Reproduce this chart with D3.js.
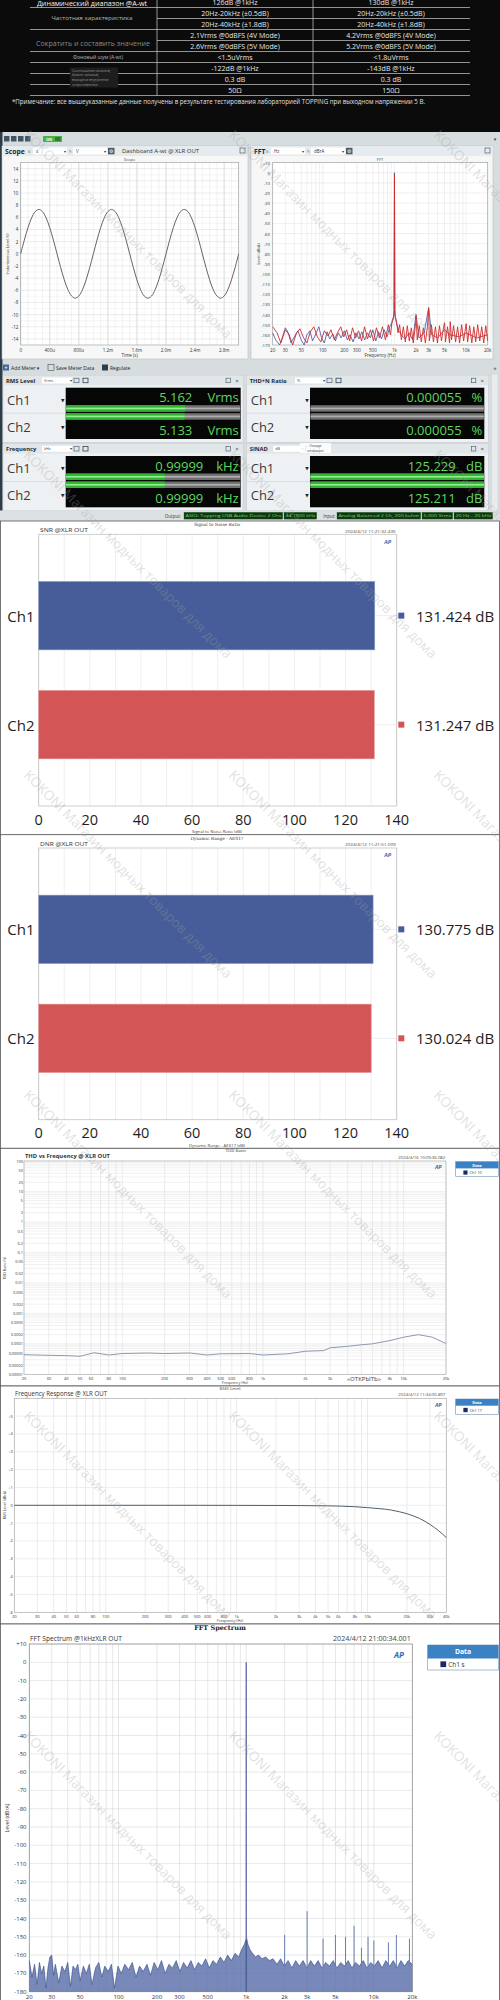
<!DOCTYPE html>
<html>
<head>
<meta charset="utf-8">
<script src="https://cdn.jsdelivr.net/npm/d3@7/dist/d3.min.js"></script>
<style>
html,body{margin:0;padding:0;background:#fff;}
svg{display:block;font-family:"Open Sans","Noto Sans","DejaVu Sans",sans-serif;}
</style>
</head>
<body>
<svg id="chart" width="500" height="2000" viewBox="0 0 500 2000"></svg>
<script>
// ===================== DATA =====================
const specLeft = ["Динамический диапазон @A-wt", "Частотная характеристика", "Сократить и составить значение", "Фоновый шум (A-wt)"];
const specMid = ["126dB @1kHz", "20Hz-20kHz (±0.5dB)", "20Hz-40kHz (±1.8dB)", "2.1Vrms @0dBFS (4V Mode)", "2.6Vrms @0dBFS (5V Mode)", "<1.5uVrms", "-122dB @1kHz", "0.3 dB", "50Ω"];
const specRight = ["130dB @1kHz", "20Hz-20kHz (±0.5dB)", "20Hz-40kHz (±1.8dB)", "4.2Vrms @0dBFS (4V Mode)", "5.2Vrms @0dBFS (5V Mode)", "<1.8uVrms", "-143dB @1kHz", "0.3 dB", "150Ω"];
const specSmallNote = ["Соотношение каналов,", "баланс каналов,", "выходное внутреннее", "сопротивление"];
const specNote = "*Примечание: все вышеуказанные данные получены в результате тестирования лабораторией TOPPING при выходном напряжении 5 В.";

const scopeTimeMs = [0,0.05,0.1,0.15,0.2,0.25,0.3,0.35,0.4,0.45,0.5,0.55,0.6,0.65,0.7,0.75,0.8,0.85,0.9,0.95,
  1.0,1.05,1.1,1.15,1.2,1.25,1.3,1.35,1.4,1.45,1.5,1.55,1.6,1.65,1.7,1.75,1.8,1.85,1.9,1.95,
  2.0,2.05,2.1,2.15,2.2,2.25,2.3,2.35,2.4,2.45,2.5,2.55,2.6,2.65,2.7,2.75,2.8,2.85,2.9,2.95,3.0];
const scopeVolts = [0,2.26,4.29,5.91,6.94,7.30,6.94,5.91,4.29,2.26,0,-2.26,-4.29,-5.91,-6.94,-7.30,-6.94,-5.91,-4.29,-2.26,
  0,2.26,4.29,5.91,6.94,7.30,6.94,5.91,4.29,2.26,0,-2.26,-4.29,-5.91,-6.94,-7.30,-6.94,-5.91,-4.29,-2.26,
  0,2.26,4.29,5.91,6.94,7.30,6.94,5.91,4.29,2.26,0,-2.26,-4.29,-5.91,-6.94,-7.30,-6.94,-5.91,-4.29,-2.26,0];
const scopeTicksMs = [0,0.4,0.8,1.2,1.6,2.0,2.4,2.8];
const scopeTickLabels = ["0","400u","800u","1.2m","1.6m","2.0m","2.4m","2.8m"];
const scopeYTicks = [14,12,10,8,6,4,2,0,-2,-4,-6,-8,-10,-12,-14];

const dashFftBlue = [[20,-158],[22,-165],[25,-170],[28,-160],[30,-153],[33,-158],[36,-168],[40,-162],[45,-156],[50,-165],[55,-170],[60,-160],[66,-156],[72,-166],[80,-159],[88,-152],[96,-163],[105,-168],[115,-157],[125,-164],[138,-159],[150,-166],[165,-158],[180,-163],[200,-156],[220,-165],[240,-160],[265,-167],[290,-158],[320,-164],[350,-157],[385,-165],[420,-158],[460,-163],[500,-155],[550,-166],[600,-157],[660,-164],[720,-155],[790,-162],[860,-152],[920,-148],[960,-145],[985,-140],[1000,0],[1015,-140],[1040,-145],[1080,-150],[1150,-156],[1250,-160],[1400,-164],[1600,-158],[1800,-165],[2000,-140],[2200,-163],[2600,-158],[3000,-133],[3300,-160],[4000,-163],[5000,-155],[6000,-160],[8000,-162],[10000,-158],[14000,-163],[20000,-160]];
const dashFftRed = [[20,-152],[23,-158],[26,-168],[30,-155],[34,-160],[38,-170],[43,-158],[48,-154],[54,-163],[60,-168],[67,-157],[75,-152],[84,-162],[94,-167],[105,-156],[118,-161],[130,-155],[145,-165],[160,-158],[178,-152],[196,-162],[215,-155],[237,-166],[260,-153],[287,-163],[316,-156],[348,-166],[383,-152],[420,-164],[463,-155],[510,-166],[560,-153],[617,-163],[680,-152],[748,-165],[820,-150],[880,-160],[930,-146],[970,-142],[990,-136],[1000,-2],[1010,-136],[1030,-142],[1070,-147],[1120,-158],[1180,-150],[1250,-165],[1330,-152],[1420,-167],[1510,-151],[1610,-166],[1720,-153],[1830,-168],[1950,-152],[2000,-141],[2080,-165],[2220,-151],[2370,-167],[2530,-153],[2700,-168],[2880,-152],[3000,-134],[3070,-166],[3280,-150],[3500,-167],[3730,-152],[3980,-168],[4250,-151],[4530,-166],[4830,-153],[5000,-148],[5150,-167],[5500,-152],[5870,-168],[6000,-147],[6260,-165],[6680,-151],[7130,-167],[7600,-152],[8110,-168],[8650,-150],[9230,-166],[9850,-152],[10000,-149],[10500,-167],[11200,-151],[12000,-168],[12800,-152],[13600,-167],[14500,-150],[15500,-166],[16500,-152],[17600,-168],[18800,-151],[20000,-166]];
const dashFftYTicks = [10,0,-10,-20,-30,-40,-50,-60,-70,-80,-90,-100,-110,-120,-130,-140,-150,-160,-170];
const fftXTicks = [20,30,50,100,200,300,500,1000,2000,3000,5000,10000,20000];

const channels = ["Ch1", "Ch2"];
const meterTitles = ["RMS Level", "THD+N Ratio", "Frequency", "SINAD"];
const meterUnits = ["Vrms", "%", "kHz", "dB"];
const rmsValues = [5.162, 5.133];
const thdnValues = [0.000055, 0.000055];
const freqValues = [0.99999, 0.99999];
const sinadValues = [125.229, 125.211];
const statusOutput = ["ASIO: Topping USB Audio Device 2 Chs", "44.1000 kHz"];
const statusInput = ["Analog Balanced 2 Ch, 200 kohm", "5.000 Vrms", "20 Hz - 20 kHz"];

const snrValues = [131.424, 131.247];
const dnrValues = [130.775, 130.024];
const barTicks = [0,20,40,60,80,100,120,140];

const thdFreq = [20,30,40,50,63,80,100,150,200,300,400,500,800,1000,1500,2000,2700,3000,4000,5000,6000,8000,10000,12700,16000,20000];
const thdValues = [0.000044,0.000042,0.000041,0.000039,0.000051,0.000043,0.000048,0.00005,0.000048,0.00005,0.000043,0.000047,0.000048,0.000043,0.000047,0.000057,0.00006,0.000074,0.000083,0.000093,0.0001,0.000128,0.000165,0.0002,0.000165,0.000102];
const thdYTicks = [100,50,20,10,5,2,1,0.5,0.2,0.1,0.05,0.02,0.01,0.005,0.002,0.001,0.0005,0.0002,0.0001,0.00005,0.00002,0.00001];
const thdXTicks = [20,30,40,50,60,80,100,200,300,400,500,600,800,1000,2000,3000,4000,5000,6000,8000,10000,20000];

const frFreq = [20,50,100,200,500,1000,2000,3000,5000,8000,10000,12500,15000,17500,20000,22500,25000,27500,30000,32500,35000,37500,40000];
const frValues = [0,0,0,0,0,-0.005,-0.01,-0.015,-0.03,-0.08,-0.13,-0.19,-0.26,-0.36,-0.47,-0.6,-0.74,-0.9,-1.07,-1.25,-1.43,-1.62,-1.81];
const frYTicks = [5,4,3,2,1,0,-1,-2,-3,-4,-5,-6];
const frXTicks = [20,30,40,50,60,80,100,200,300,400,500,600,800,1000,2000,3000,4000,5000,6000,8000,10000,20000,30000,40000];

const fftNoise = [[20,-163],[21,-172],[22,-165],[23,-176],[24,-164],[25,-170],[26,-166],[27,-178],[28,-167],[29,-161],[30,-160],[31,-171],[32,-165],[34,-175],[36,-166],[38,-169],[40,-164],[42,-177],[44,-166],[46,-168],[48,-165],[50,-174],[53,-166],[56,-170],[59,-165],[62,-176],[66,-167],[70,-164],[74,-172],[78,-166],[83,-169],[88,-165],[93,-178],[99,-166],[105,-170],[112,-165],[120,-168],[128,-164],[137,-172],[146,-166],[156,-169],[167,-165],[178,-171],[190,-164],[203,-168],[217,-163],[232,-170],[248,-165],[265,-167],[283,-163],[302,-169],[323,-164],[345,-167],[369,-163],[394,-168],[421,-164],[450,-166],[481,-162],[514,-167],[549,-163],[587,-165],[627,-161],[670,-164],[716,-160],[765,-163],[818,-159],[874,-161],[934,-156],[970,-154],[990,-152],[1010,-151],[1030,-154],[1070,-157],[1120,-159],[1180,-161],[1250,-160],[1330,-162],[1420,-161],[1520,-163],[1620,-162],[1740,-165],[1860,-162],[1990,-166],[2130,-163],[2280,-167],[2440,-163],[2610,-166],[2790,-163],[2990,-167],[3200,-163],[3420,-166],[3660,-163],[3920,-167],[4190,-164],[4490,-166],[4800,-163],[5140,-167],[5500,-164],[5880,-166],[6290,-163],[6730,-167],[7200,-164],[7710,-166],[8250,-163],[8830,-167],[9450,-164],[10100,-166],[10800,-163],[11600,-167],[12400,-163],[13300,-166],[14200,-163],[15200,-167],[16300,-163],[17400,-166],[18600,-163],[20000,-165]];
const fftHarmonics = [[2000,-149],[3000,-136],[4000,-151],[5000,-149],[6000,-150],[7000,-144],[8000,-156],[9000,-150],[10000,-152],[13000,-153],[15000,-149],[19000,-151]];
const fftFundamental = [[1000, 0]];
const fftYTicks = [10,0,-10,-20,-30,-40,-50,-60,-70,-80,-90,-100,-110,-120,-130,-140,-150,-160,-170,-180];

const watermark = "KOKONI Магазин модных товаров для дома";

// ===================== HELPERS =====================
const svg = d3.select("#chart");
function T(g, x, y, s, o = {}) {
  const t = g.append("text").attr("x", x).attr("y", y).text(s)
    .attr("font-size", o.size || 6).attr("fill", o.fill || "#222")
    .attr("text-anchor", o.anchor || "start").attr("dominant-baseline", "central");
  if (o.weight) t.attr("font-weight", o.weight);
  if (o.len) t.attr("textLength", o.len).attr("lengthAdjust", "spacingAndGlyphs");
  if (o.family) t.attr("font-family", o.family);
  if (o.rot) t.attr("transform", `rotate(${o.rot},${x},${y})`);
  if (o.italic) t.attr("font-style", "italic");
  if (o.op != null) t.attr("opacity", o.op);
  return t;
}
function R(g, x, y, w, h, fill, stroke, sw) {
  const r = g.append("rect").attr("x", x).attr("y", y).attr("width", w).attr("height", h).attr("fill", fill || "none");
  if (stroke) r.attr("stroke", stroke).attr("stroke-width", sw || 0.5);
  return r;
}
function L(g, x1, y1, x2, y2, stroke, sw) {
  return g.append("line").attr("x1", x1).attr("y1", y1).attr("x2", x2).attr("y2", y2).attr("stroke", stroke).attr("stroke-width", sw || 0.5);
}
const fmtK = f => f >= 1000 ? (f / 1000) + "k" : String(f);
const fmtSigned = v => v > 0 ? "+" + v : String(v);
const fmtSmall = v => v >= 1 ? String(v) : v.toFixed(Math.ceil(-Math.log10(v) - 1e-9));
function apLogo(g, x, y, s) { T(g, x, y, "AP", {size: s || 6, fill: "#2f6db5", weight: "bold", italic: true, anchor: "middle"}); }
function legendBox(g, x0, x1, y0, hh, rh, label, fs) {
  R(g, x0, y0, x1 - x0, hh + rh, "#fff", "#6f8fb5", 0.6);
  R(g, x0, y0, x1 - x0, hh, "#3a82c4");
  T(g, (x0 + x1) / 2, y0 + hh / 2, "Data", {size: fs, fill: "#fff", anchor: "middle", weight: "bold"});
  const sq = rh * 0.5;
  R(g, x0 + (x1 - x0) * 0.18, y0 + hh + (rh - sq) / 2, sq, sq, "#1b2a60");
  T(g, x0 + (x1 - x0) * 0.18 + sq + 2, y0 + hh + rh / 2, label, {size: fs * 0.95, fill: "#333"});
}

// ===================== 1. SPEC TABLE =====================
{
  const g = svg.append("g");
  R(g, 0, 0, 500, 132, "#0b0b0b");
  const rowY = d3.scalePoint().domain(d3.range(specMid.length)).range([2, 90]);
  const st = rowY.step();
  specMid.forEach((d, i) => {
    const ly = rowY(i) + st / 2;
    const x0 = (i === 1 || i === 3) ? 157 : 30;
    L(g, x0, ly, 470, ly, "#cfcfcf", 0.7);
    T(g, 235, rowY(i), d, {size: 7, fill: "#e6e6e6", anchor: "middle"});
    T(g, 391, rowY(i), specRight[i], {size: 7, fill: "#e6e6e6", anchor: "middle"});
  });
  L(g, 157, 0, 157, rowY(8) + st / 2, "#cfcfcf", 0.7);
  L(g, 313, 0, 313, rowY(8) + st / 2, "#cfcfcf", 0.7);
  T(g, 92, 2.5, specLeft[0], {size: 8, fill: "#f2f2f2", anchor: "middle", len: 110});
  T(g, 92, 18, specLeft[1], {size: 5.5, fill: "#b8b8b8", anchor: "middle", len: 81});
  T(g, 93, 43, specLeft[2], {size: 7.2, fill: "#8a8a8a", anchor: "middle", len: 114});
  T(g, 98, 57, specLeft[3], {size: 4.5, fill: "#b8b8b8", anchor: "middle", len: 50});
  R(g, 70, 67.5, 48, 20, "#1e1e1e");
  specSmallNote.forEach((s, i) => T(g, 72, 70 + i * 4.8, s, {size: 3.4, fill: "#9a9a9a"}));
  T(g, 12, 101.5, specNote, {size: 6.3, fill: "#e0e0e0", len: 413});
}

// ===================== 2. DASHBOARD =====================
{
  const g = svg.append("g");
  R(g, 0, 132, 500, 389, "#d7dcdf");
  R(g, 0, 132, 2.5, 389, "#2d3c46");
  [4, 11, 18, 25].forEach(x => R(g, x, 136, 5.5, 5.5, "#3f5565"));
  R(g, 43, 136, 19, 6, "#46b346");
  T(g, 49, 139, "ON", {size: 3.8, fill: "#fff", anchor: "middle", weight: "bold"});
  R(g, 55, 137, 5.5, 4, "#2b7f2b");
  T(g, 495, 139, "▾", {size: 5, fill: "#444", anchor: "middle"});

  function graphPanel(x0, w, name, xl, xu, yu, caption) {
    R(g, x0, 146, w, 213, "#f7f7f7", "#b8c1c7", 0.6);
    R(g, x0, 146, w, 10, "#e5ebee");
    T(g, x0 + 3, 151, name, {size: 6.8, weight: "bold", fill: "#1e2a33"});
    const bx = x0 + xl;
    T(g, bx - 5, 151, "X:", {size: 3.6, fill: "#555"});
    R(g, bx, 147.5, 34, 7, "#fff");
    T(g, bx + 3, 151, xu, {size: 4.5, fill: "#333"});
    T(g, bx + 31, 151, "▾", {size: 4, fill: "#333"});
    T(g, bx + 36, 151, "Y:", {size: 3.6, fill: "#555"});
    R(g, bx + 40, 147.5, 34, 7, "#fff");
    T(g, bx + 43, 151, yu, {size: 4.5, fill: "#333"});
    T(g, bx + 71, 151, "▾", {size: 4, fill: "#333"});
    R(g, bx + 75, 147.8, 6.5, 6.5, "#4c5f6c");
    T(g, bx + 78.25, 151.1, "⚙", {size: 5, fill: "#fff", anchor: "middle"});
    if (caption) T(g, bx + 89, 151, caption, {size: 6, fill: "#333", len: 77});
    R(g, x0 + w - 8, 148, 5, 5, "none", "#445", 0.6);
  }
  graphPanel(2, 246, "Scope", 31, "s", "V", "Dashboard A-wt @ XLR OUT");
  graphPanel(251, 242, "FFT", 20, "Hz", "dBrA", null);

  // ---- Scope plot
  const sx = d3.scaleLinear().domain([0, 3]).range([20.7, 238.7]);
  const sy = d3.scaleLinear().domain([-15, 15]).range([345, 162.6]);
  R(g, 20.7, 162.6, 218, 182.4, "#fff");
  g.append("g").selectAll("line").data(d3.range(0, 3.001, 0.1)).join("line")
    .attr("x1", d => sx(d)).attr("x2", d => sx(d)).attr("y1", 162.6).attr("y2", 345)
    .attr("stroke", "#e6e6e6").attr("stroke-width", 0.5);
  g.append("g").selectAll("line").data(d3.range(-15, 15.01, 1)).join("line")
    .attr("y1", d => sy(d)).attr("y2", d => sy(d)).attr("x1", 20.7).attr("x2", 238.7)
    .attr("stroke", d => d % 2 === 0 ? "#d9d9d9" : "#ececec").attr("stroke-width", 0.5);
  g.append("g").selectAll("line").data(scopeTicksMs).join("line")
    .attr("x1", d => sx(d)).attr("x2", d => sx(d)).attr("y1", 162.6).attr("y2", 345)
    .attr("stroke", "#d2d2d2").attr("stroke-width", 0.6);
  R(g, 20.7, 162.6, 218, 182.4, "none", "#9aa0a4", 0.6);
  scopeYTicks.forEach(v => T(g, 18.3, sy(v), String(v), {size: 4.5, fill: "#333", anchor: "end"}));
  scopeTicksMs.forEach((v, i) => T(g, sx(v), 350, scopeTickLabels[i], {size: 4.5, fill: "#333", anchor: "middle"}));
  T(g, 129.7, 159, "Scope", {size: 4, fill: "#444", anchor: "middle"});
  T(g, 129.7, 354.5, "Time (s)", {size: 4.5, fill: "#333", anchor: "middle"});
  T(g, 7, 254, "Instantaneous Level (V)", {size: 3.8, fill: "#333", anchor: "middle", rot: -90});
  g.append("path").datum(scopeTimeMs.map((t, i) => [t, scopeVolts[i]]))
    .attr("d", d3.line().x(d => sx(d[0])).y(d => sy(d[1])).curve(d3.curveCatmullRom))
    .attr("fill", "none").attr("stroke", "#6e5f68").attr("stroke-width", 1);

  // ---- Dashboard FFT plot
  const fx = d3.scaleLog().domain([20, 20000]).range([272.7, 487.7]);
  const fy = d3.scaleLinear().domain([-170, 10]).range([345, 162.6]);
  R(g, 272.7, 162.6, 215, 182.4, "#fff");
  g.append("g").selectAll("line").data(fx.ticks()).join("line")
    .attr("x1", d => fx(d)).attr("x2", d => fx(d)).attr("y1", 162.6).attr("y2", 345)
    .attr("stroke", "#e0e0e0").attr("stroke-width", 0.5);
  g.append("g").selectAll("line").data(dashFftYTicks).join("line")
    .attr("y1", d => fy(d)).attr("y2", d => fy(d)).attr("x1", 272.7).attr("x2", 487.7)
    .attr("stroke", "#e0e0e0").attr("stroke-width", 0.5);
  R(g, 272.7, 162.6, 215, 182.4, "none", "#9aa0a4", 0.6);
  dashFftYTicks.forEach(v => T(g, 270, fy(v), fmtSigned(v), {size: 4.3, fill: "#333", anchor: "end"}));
  fftXTicks.forEach(v => T(g, fx(v), 350, fmtK(v), {size: 4.5, fill: "#333", anchor: "middle"}));
  T(g, 380, 159, "FFT", {size: 4, fill: "#444", anchor: "middle"});
  T(g, 380, 354.5, "Frequency (Hz)", {size: 4.5, fill: "#333", anchor: "middle"});
  T(g, 258, 254, "Level (dBrA)", {size: 3.8, fill: "#333", anchor: "middle", rot: -90});
  const fl = d3.line().x(d => fx(d[0])).y(d => fy(d[1]));
  g.append("path").datum(dashFftBlue).attr("d", fl).attr("fill", "none").attr("stroke", "#3c4f9e").attr("stroke-width", 0.8);
  g.append("path").datum(dashFftRed).attr("d", fl).attr("fill", "none").attr("stroke", "#cf2b2b").attr("stroke-width", 0.9);

  // ---- meter toolbar
  R(g, 3, 364.5, 6, 6, "#3c6f9e");
  T(g, 6, 367.5, "+", {size: 5, fill: "#fff", anchor: "middle", weight: "bold"});
  T(g, 11, 368, "Add Meter  ▾", {size: 5, fill: "#222"});
  R(g, 48, 364.5, 6, 6, "none", "#333", 0.5);
  T(g, 56, 368, "Save Meter Data", {size: 5, fill: "#222"});
  R(g, 102, 364.5, 6, 6, "#2e3e4a");
  T(g, 110, 368, "Regulate", {size: 5, fill: "#222"});
  T(g, 495, 368, "±", {size: 5, fill: "#444", anchor: "middle"});
  R(g, 491.5, 374, 6.5, 137, "#e9ebec", "#c8cdd0", 0.4);

  // ---- meter panels
  function meterPanel(p) {
    const {x0, y0, w, d0, d1, title, unit, vals, fmt, bar, vr, ur, ddx} = p;
    R(g, x0, y0, w, 66.6, "#eef1f3", "#c0c7cc", 0.5);
    R(g, x0, y0, w, 9.5, "#e1e6e9");
    T(g, x0 + 3, y0 + 5, title, {size: 5.8, weight: "bold", fill: "#1f2b33"});
    const ux = x0 + ddx;
    R(g, ux, y0 + 1.8, 30, 6, "#fff");
    T(g, ux + 2, y0 + 4.9, unit, {size: 3.8, fill: "#444"});
    T(g, ux + 28, y0 + 4.9, "▾", {size: 4, fill: "#333"});
    R(g, ux + 32, y0 + 2.5, 5, 4.5, "none", "#456", 0.6);
    R(g, ux + 41, y0 + 2.5, 5, 4.5, "none", "#345", 0.8);
    R(g, x0 + w - 17, y0 + 2.5, 4.5, 4.5, "none", "#456", 0.6);
    T(g, x0 + w - 6, y0 + 5, "×", {size: 6, fill: "#333", anchor: "middle"});
    L(g, x0, y0 + 37.5, d0, y0 + 37.5, "#cdd3d6", 0.6);
    channels.forEach((c, i) => {
      T(g, x0 + 4, y0 + (i === 0 ? 24.3 : 51), c, {size: 13, fill: "#3a3a3a"});
      T(g, d0 - 3, y0 + (i === 0 ? 24.3 : 51), "▼", {size: 4.5, fill: "#222", anchor: "middle"});
    });
    R(g, d0, y0 + 12, d1 - d0, 51.3, "#060606");
    const bw = d1 - d0 - 1;
    bar.range([0, bw]).clamp(true);
    vals.forEach((v, i) => {
      const by = y0 + 29.5 + i * 8;
      R(g, d0 + 0.5, by, bw, 6.5, "#707070");
      R(g, d0 + 0.5, by + 2.4, bw, 1.7, "#b0b0b0");
      const gw = bar(v);
      if (gw > 0) {
        R(g, d0 + 0.5, by, gw, 6.5, "#33b133");
        R(g, d0 + 0.5, by + 2.4, gw, 1.7, "#8ff08f");
      }
      const ty = y0 + (i === 0 ? 21.6 : 54.3);
      T(g, d1 + vr, ty, fmt(v), {size: 13, fill: "#5fd65f", anchor: "end"});
      T(g, d1 + ur, ty, unit, {size: 13, fill: "#5fd65f", anchor: "end"});
    });
  }
  meterPanel({x0: 3, y0: 375.7, w: 240, d0: 65.7, d1: 240.7, title: meterTitles[0], unit: meterUnits[0], vals: rmsValues, fmt: d3.format(".3f"), bar: d3.scaleLinear().domain([0, 7.54]), vr: -48.4, ur: -2, ddx: 39});
  meterPanel({x0: 246.7, y0: 375.7, w: 241.6, d0: 310, d1: 484.3, title: meterTitles[1], unit: meterUnits[1], vals: thdnValues, fmt: d3.format(".6f"), bar: d3.scaleLog().domain([0.0001, 100]), vr: -22.6, ur: -2, ddx: 48.3});
  meterPanel({x0: 3, y0: 444, w: 240, d0: 65.7, d1: 240.7, title: meterTitles[2], unit: meterUnits[2], vals: freqValues, fmt: d3.format(".5f"), bar: d3.scaleLog().domain([0.02, 20]), vr: -37.4, ur: -2, ddx: 39});
  meterPanel({x0: 246.7, y0: 444, w: 241.6, d0: 310, d1: 484.3, title: meterTitles[3], unit: meterUnits[3], vals: sinadValues, fmt: d3.format(".3f"), bar: d3.scaleLinear().domain([0, 120]), vr: -28.6, ur: -2, ddx: 26.6});
  R(g, 300, 443, 31, 10, "#fff", null).attr("opacity", 0.85);
  T(g, 315.5, 445.5, "Четыре", {size: 3.4, fill: "#444", anchor: "middle"});
  T(g, 315.5, 450, "операции", {size: 3.4, fill: "#444", anchor: "middle"});

  // ---- status bar
  R(g, 0, 510.5, 500, 10.5, "#dde1e4");
  T(g, 181, 515.7, "Output:", {size: 4.5, fill: "#333", anchor: "end"});
  T(g, 335.5, 515.7, "Input:", {size: 4.5, fill: "#333", anchor: "end"});
  const boxes = [[184, 282.7, statusOutput[0]], [284, 316.7, statusOutput[1]], [337, 420.7, statusInput[0]], [422, 452.7, statusInput[1]], [454, 492.7, statusInput[2]]];
  boxes.forEach(b => {
    R(g, b[0], 512.3, b[1] - b[0], 6.8, "#0f3613", "#2f6a2f", 0.4);
    T(g, (b[0] + b[1]) / 2, 515.8, b[2], {size: 4, fill: "#78d878", anchor: "middle", len: (b[1] - b[0]) - 3});
  });
}

// ===================== 3/4. SNR & DNR BAR CHARTS =====================
function barChart(o, values, title, date, axisTitle, topLabel, sectionH) {
  const g = svg.append("g");
  R(g, 0.5, 521 + o, 499, sectionH, "#fff", "#555", 0.8);
  const x = d3.scaleLinear().domain([0, 140]).range([38.7, 396.7]);
  const y = d3.scaleBand().domain(channels).range([534.3 + o, 806 + o]).paddingInner(0.372).paddingOuter(0.4325);
  const colors = ["#475d99", "#d35555"];
  g.append("g").selectAll("line").data(d3.range(0, 141, 10)).join("line")
    .attr("x1", d => x(d)).attr("x2", d => x(d)).attr("y1", 534.3 + o).attr("y2", 806 + o)
    .attr("stroke", "#e8e8e8").attr("stroke-width", 0.7);
  g.append("g").selectAll("line").data(channels).join("line")
    .attr("x1", x(0)).attr("x2", x(140)).attr("y1", d => y(d) + y.bandwidth() / 2).attr("y2", d => y(d) + y.bandwidth() / 2)
    .attr("stroke", "#e8e8e8").attr("stroke-width", 0.7);
  R(g, 38.7, 534.3 + o, 358, 271.7, "none", "#c4c4c4", 0.8);
  g.append("g").selectAll("rect").data(values).join("rect")
    .attr("x", x(0)).attr("y", (d, i) => y(channels[i])).attr("width", d => x(d) - x(0)).attr("height", y.bandwidth())
    .attr("fill", (d, i) => colors[i]).attr("stroke", (d, i) => i ? "#e59a9a" : "#8f9fc8").attr("stroke-width", 0.6);
  channels.forEach((c, i) => {
    const cy = y(c) + y.bandwidth() / 2;
    T(g, 7.3, cy, c, {size: 15, fill: "#1e1e1e"});
    R(g, 398.3, cy - 3, 6, 6, colors[i]);
    T(g, 416, cy, d3.format(".3f")(values[i]) + " dB", {size: 15, fill: "#1e1e1e"});
  });
  barTicks.forEach(v => T(g, x(v), 819 + o, String(v), {size: 14.5, fill: "#1e1e1e", anchor: "middle"}));
  T(g, 217, 831 + o, axisTitle, {size: 4.3, fill: "#444", anchor: "middle"});
  T(g, 217, 524.5 + o, topLabel, {size: 4.3, fill: "#444", anchor: "middle", family: "DejaVu Serif"});
  T(g, 40, 530.3 + o, title, {size: 6, fill: "#333", len: 48});
  T(g, 395.7, 530.5 + o, date, {size: 4.3, fill: "#444", anchor: "end", len: 50.7});
  apLogo(g, 387.7, 541.7 + o, 5.5);
}
barChart(0, snrValues, "SNR @XLR OUT", "2024/4/12 11:21:32.435", "Signal to Noise Ratio (dB)", "Signal to Noise Ratio", 314);
barChart(313.7, dnrValues, "DNR @XLR OUT", "2024/4/12 11:21:51.009", "Dynamic Range - AES17 (dB)", "Dynamic Range - AES17", 313.6);

// ===================== 5. THD vs FREQUENCY =====================
{
  const g = svg.append("g");
  R(g, 0.5, 1148.3, 499, 237.7, "#fff", "#555", 0.8);
  const x = d3.scaleLog().domain([20, 20000]).range([24, 446]);
  const y = d3.scaleLog().domain([1e-5, 100]).range([1374.3, 1161]);
  g.append("g").selectAll("line").data(x.ticks()).join("line")
    .attr("x1", d => x(d)).attr("x2", d => x(d)).attr("y1", 1161).attr("y2", 1374.3)
    .attr("stroke", "#d9d9d9").attr("stroke-width", 0.5);
  g.append("g").selectAll("line").data(y.ticks()).join("line")
    .attr("y1", d => y(d)).attr("y2", d => y(d)).attr("x1", 24).attr("x2", 446)
    .attr("stroke", "#e2e2e2").attr("stroke-width", 0.5);
  R(g, 24, 1161, 422, 213.3, "none", "#a8a8a8", 0.6);
  thdYTicks.forEach(v => T(g, 23, y(v), fmtSmall(v), {size: 3.9, fill: "#333", anchor: "end"}));
  thdXTicks.forEach(v => T(g, x(v), 1378.5, fmtK(v), {size: 4, fill: "#333", anchor: "middle"}));
  R(g, 345, 1375.5, 38, 6, "#fff");
  T(g, 364, 1378.5, "«ОТКРЫТЬ»", {size: 5.5, fill: "#444", anchor: "middle", len: 34});
  T(g, 235, 1382.6, "Frequency (Hz)", {size: 3.8, fill: "#444", anchor: "middle"});
  T(g, 235.7, 1150.8, "THD Ratio", {size: 3.8, fill: "#444", anchor: "middle", family: "DejaVu Serif"});
  T(g, 4, 1268, "THD Ratio (%)", {size: 3.6, fill: "#444", anchor: "middle", rot: -90});
  T(g, 25, 1156.2, "THD vs Frequency @ XLR OUT", {size: 6, fill: "#333", weight: "bold", len: 85});
  T(g, 445.3, 1157, "2024/4/16 10:09:36.082", {size: 4.2, fill: "#444", anchor: "end", len: 47});
  apLogo(g, 438.3, 1167.3, 5.5);
  legendBox(g, 455.7, 498.3, 1161.7, 6.7, 8.3, "Ch1  10", 4);
  g.append("path").datum(thdFreq.map((f, i) => [f, thdValues[i]]))
    .attr("d", d3.line().x(d => x(d[0])).y(d => y(d[1])))
    .attr("fill", "none").attr("stroke", "#8c9aae").attr("stroke-width", 1);
}

// ===================== 6. FREQUENCY RESPONSE =====================
{
  const g = svg.append("g");
  R(g, 0.5, 1386, 499, 238, "#fff", "#555", 0.8);
  const x = d3.scaleLog().domain([20, 40000]).range([14.3, 446.3]);
  const y = d3.scaleLinear().domain([-6, 6]).range([1612.3, 1398.3]);
  g.append("g").selectAll("line").data(x.ticks()).join("line")
    .attr("x1", d => x(d)).attr("x2", d => x(d)).attr("y1", 1398.3).attr("y2", 1612.3)
    .attr("stroke", "#d9d9d9").attr("stroke-width", 0.5);
  g.append("g").selectAll("line").data(d3.range(-6, 6.01, 1)).join("line")
    .attr("y1", d => y(d)).attr("y2", d => y(d)).attr("x1", 14.3).attr("x2", 446.3)
    .attr("stroke", "#dcdcdc").attr("stroke-width", 0.5);
  R(g, 14.3, 1398.3, 432, 214, "none", "#a8a8a8", 0.6);
  frYTicks.forEach(v => T(g, 12.8, y(v), fmtSigned(v), {size: 4, fill: "#333", anchor: "end"}));
  frXTicks.forEach(v => T(g, x(v), 1616, fmtK(v), {size: 4, fill: "#333", anchor: "middle"}));
  T(g, 230, 1620, "Frequency (Hz)", {size: 3.8, fill: "#444", anchor: "middle"});
  T(g, 230, 1388.8, "RMS Level", {size: 3.8, fill: "#444", anchor: "middle", family: "DejaVu Serif"});
  T(g, 4, 1505, "RMS Level (dBrA)", {size: 3.6, fill: "#444", anchor: "middle", rot: -90});
  T(g, 15, 1393.8, "Frequency Response @ XLR OUT", {size: 6.2, fill: "#333", len: 92});
  T(g, 445.3, 1394.7, "2024/4/12 11:34:00.897", {size: 4.2, fill: "#444", anchor: "end", len: 47});
  apLogo(g, 438.3, 1405, 5.5);
  legendBox(g, 455.7, 498.3, 1399, 6.7, 8.6, "Ch1  17", 4);
  g.append("path").datum(frFreq.map((f, i) => [f, frValues[i]]))
    .attr("d", d3.line().x(d => x(d[0])).y(d => y(d[1])).curve(d3.curveMonotoneX))
    .attr("fill", "none").attr("stroke", "#4d6070").attr("stroke-width", 1);
}

// ===================== 7. FFT SPECTRUM =====================
{
  const g = svg.append("g");
  R(g, 0.5, 1624, 499, 380, "#fff", "#555", 0.8);
  const x = d3.scaleLog().domain([20, 20000]).range([29.3, 412.3]);
  const y = d3.scaleLinear().domain([-180, 10]).range([1991.7, 1644]);
  g.append("g").selectAll("line").data(x.ticks()).join("line")
    .attr("x1", d => x(d)).attr("x2", d => x(d)).attr("y1", 1644).attr("y2", 1991.7)
    .attr("stroke", "#d6d6d6").attr("stroke-width", 0.6);
  g.append("g").selectAll("line").data(fftYTicks).join("line")
    .attr("y1", d => y(d)).attr("y2", d => y(d)).attr("x1", 29.3).attr("x2", 412.3)
    .attr("stroke", "#dadada").attr("stroke-width", 0.6);
  R(g, 29.3, 1644, 383, 347.7, "none", "#8a8a8a", 0.7);
  fftYTicks.forEach(v => T(g, 26.5, y(v), fmtSigned(v), {size: 6, fill: "#333", anchor: "end"}));
  fftXTicks.forEach(v => T(g, x(v), 1997, fmtK(v), {size: 6, fill: "#333", anchor: "middle"}));
  T(g, 6.7, 1818, "Level (dBrA)", {size: 5.2, fill: "#333", anchor: "middle", rot: -90});
  T(g, 220, 1628.3, "FFT Spectrum", {size: 6.5, fill: "#222", anchor: "middle", weight: "bold", family: "DejaVu Serif"});
  T(g, 30, 1637.5, "FFT Spectrum @1kHzXLR OUT", {size: 7.5, fill: "#333", len: 92});
  T(g, 410.7, 1638, "2024/4/12 21:00:34.001", {size: 7, fill: "#444", anchor: "end", len: 77.7});
  apLogo(g, 399, 1654, 8);
  legendBox(g, 427.7, 498.3, 1645, 13.5, 11.5, "Ch1  s", 6.8);
  g.append("path").datum(fftNoise)
    .attr("d", d3.area().x(d => x(d[0])).y0(y(-180)).y1(d => y(d[1])))
    .attr("fill", "#566aa6").attr("opacity", 0.8);
  g.append("path").datum(fftNoise)
    .attr("d", d3.line().x(d => x(d[0])).y(d => y(d[1])))
    .attr("fill", "none").attr("stroke", "#33488a").attr("stroke-width", 0.6);
  g.append("g").selectAll("line").data(fftHarmonics).join("line")
    .attr("x1", d => x(d[0])).attr("x2", d => x(d[0])).attr("y1", y(-166)).attr("y2", d => y(d[1]))
    .attr("stroke", "#6a7cb0").attr("stroke-width", 1);
  g.append("g").selectAll("line").data(fftFundamental).join("line")
    .attr("x1", d => x(d[0])).attr("x2", d => x(d[0])).attr("y1", y(-180)).attr("y2", d => y(d[1]))
    .attr("stroke", "#3f548f").attr("stroke-width", 1.1);
}

// ===================== WATERMARK =====================
{
  const g = svg.append("g").attr("pointer-events", "none");
  [136, 456, 776, 1096, 1417, 1737].forEach(ry => {
    [23, 228, 433].forEach(rx => {
      g.append("text").attr("x", rx).attr("y", ry).text(watermark)
        .attr("font-size", 13.5).attr("fill", "#a0a0a0").attr("opacity", 0.3)
        .attr("transform", `rotate(45,${rx},${ry})`);
    });
  });
}
</script>
</body>
</html>
